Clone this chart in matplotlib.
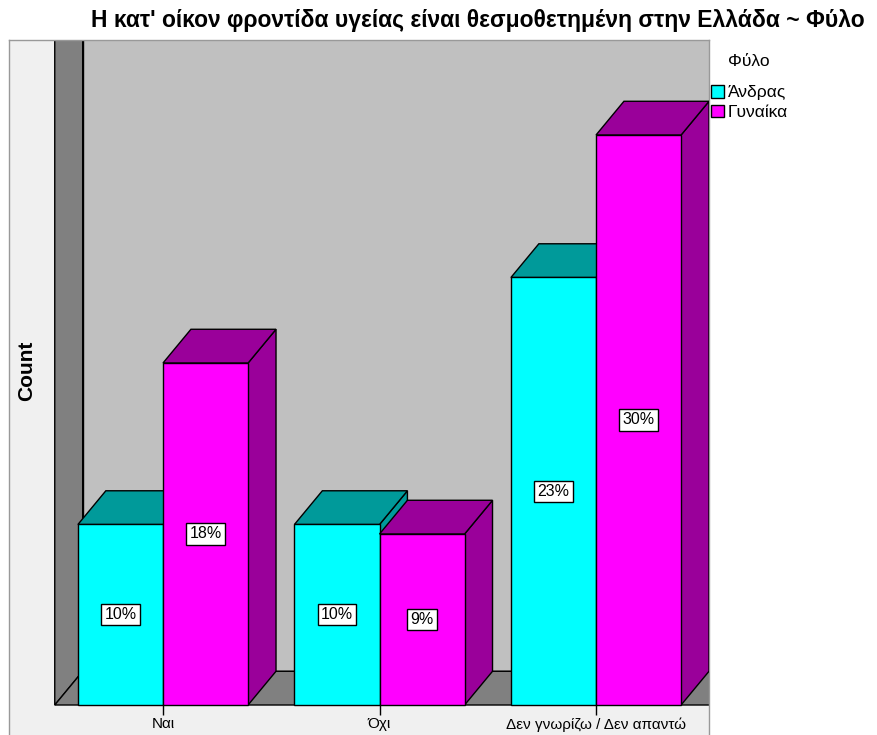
import matplotlib
matplotlib.use("Agg")
import matplotlib.pyplot as plt
from matplotlib.patches import Polygon, Patch

plt.rcParams['font.family'] = ['Liberation Sans', 'DejaVu Sans']

# survey answers split by sex (counts)
categories = ['Ναι', 'Όχι', 'Δεν γνωρίζω / Δεν απαντώ']
groups = ['Άνδρας', 'Γυναίκα']
counts_men = [19, 19, 45]
counts_women = [36, 18, 60]
counts = {'Άνδρας': counts_men, 'Γυναίκα': counts_women}

front_col = {'Άνδρας': '#00FFFF', 'Γυναίκα': '#FF00FF'}
shade_col = {'Άνδρας': '#009A9A', 'Γυναίκα': '#9A009A'}

total = sum(counts_men) + sum(counts_women)

title = "Η κατ' οίκον φροντίδα υγείας είναι θεσμοθετημένη στην Ελλάδα ~ Φύλο"

fig = plt.figure(figsize=(8.77, 7.35), dpi=100)
ax = fig.add_axes([9 / 877, 0, 700 / 877, 695 / 735])
ax.set_facecolor('#F0F0F0')
ax.set_xlim(-0.7113, 2.5219)
ax.set_ylim(-3.158, 70.0)

# fake 3d depth offset and bar width
DX, DY = 0.129, 3.55
W = 0.393


def face(pts, color, z=1):
    ax.add_patch(Polygon(pts, closed=True, fc=color, ec='black', lw=1,
                         joinstyle='miter', zorder=z))


# walls and floor of the box
x0, x1, top = -0.5, 2.7, 90
face([(x0 + DX, DY), (x1 + DX, DY), (x1 + DX, top), (x0 + DX, top)], '#C0C0C0')
face([(x0, 0), (x0 + DX, DY), (x0 + DX, top), (x0, top)], '#808080')
face([(x0, 0), (x1, 0), (x1 + DX, DY), (x0 + DX, DY)], '#808080')

z = 2
for i, cat in enumerate(categories):
    for j, g in enumerate(groups):
        h = counts[g][i]
        l = i - W + j * W
        face([(l + W, 0), (l + W + DX, DY), (l + W + DX, h + DY), (l + W, h)],
             shade_col[g], z)
        face([(l, h), (l + W, h), (l + W + DX, h + DY), (l + DX, h + DY)],
             shade_col[g], z)
        face([(l, 0), (l + W, 0), (l + W, h), (l, h)], front_col[g], z)
        ax.text(l + W / 2, h / 2, f'{round(100 * h / total)}%',
                ha='center', va='center', fontsize=11.5, zorder=20,
                bbox=dict(boxstyle='square,pad=0.2', fc='white', ec='black', lw=1))
        z += 1

for s in ['left', 'top', 'right']:
    ax.spines[s].set_color('#999999')
    ax.spines[s].set_linewidth(1)
ax.spines['bottom'].set_position(('data', 0))
ax.spines['bottom'].set_visible(False)

ax.set_xticks(range(len(categories)), categories)
ax.tick_params(axis='x', length=7, width=1, pad=2, labelsize=11)
ax.set_yticks([])

ax.text(0.0257, 0.5237, 'Count', rotation=90, transform=ax.transAxes,
        ha='center', va='center', fontsize=15, fontweight='bold')

fig.text(478 / 877, 1 - 20 / 735, title, ha='center', va='center',
         fontsize=16.5, fontweight='bold')

# legend
fig.text(749 / 877, 1 - 62 / 735, 'Φύλο', ha='center', va='center', fontsize=12.5)
handles = [Patch(fc=front_col[g], ec='black', lw=1, label=g) for g in groups]
fig.legend(handles=handles, loc='upper left',
           bbox_to_anchor=(711 / 877, 1 - 85 / 735), frameon=False,
           fontsize=12.5, handlelength=0.75, handleheight=0.75,
           handletextpad=0.2, labelspacing=0.25, borderpad=0, borderaxespad=0)

fig.savefig('out.png', dpi=100)
